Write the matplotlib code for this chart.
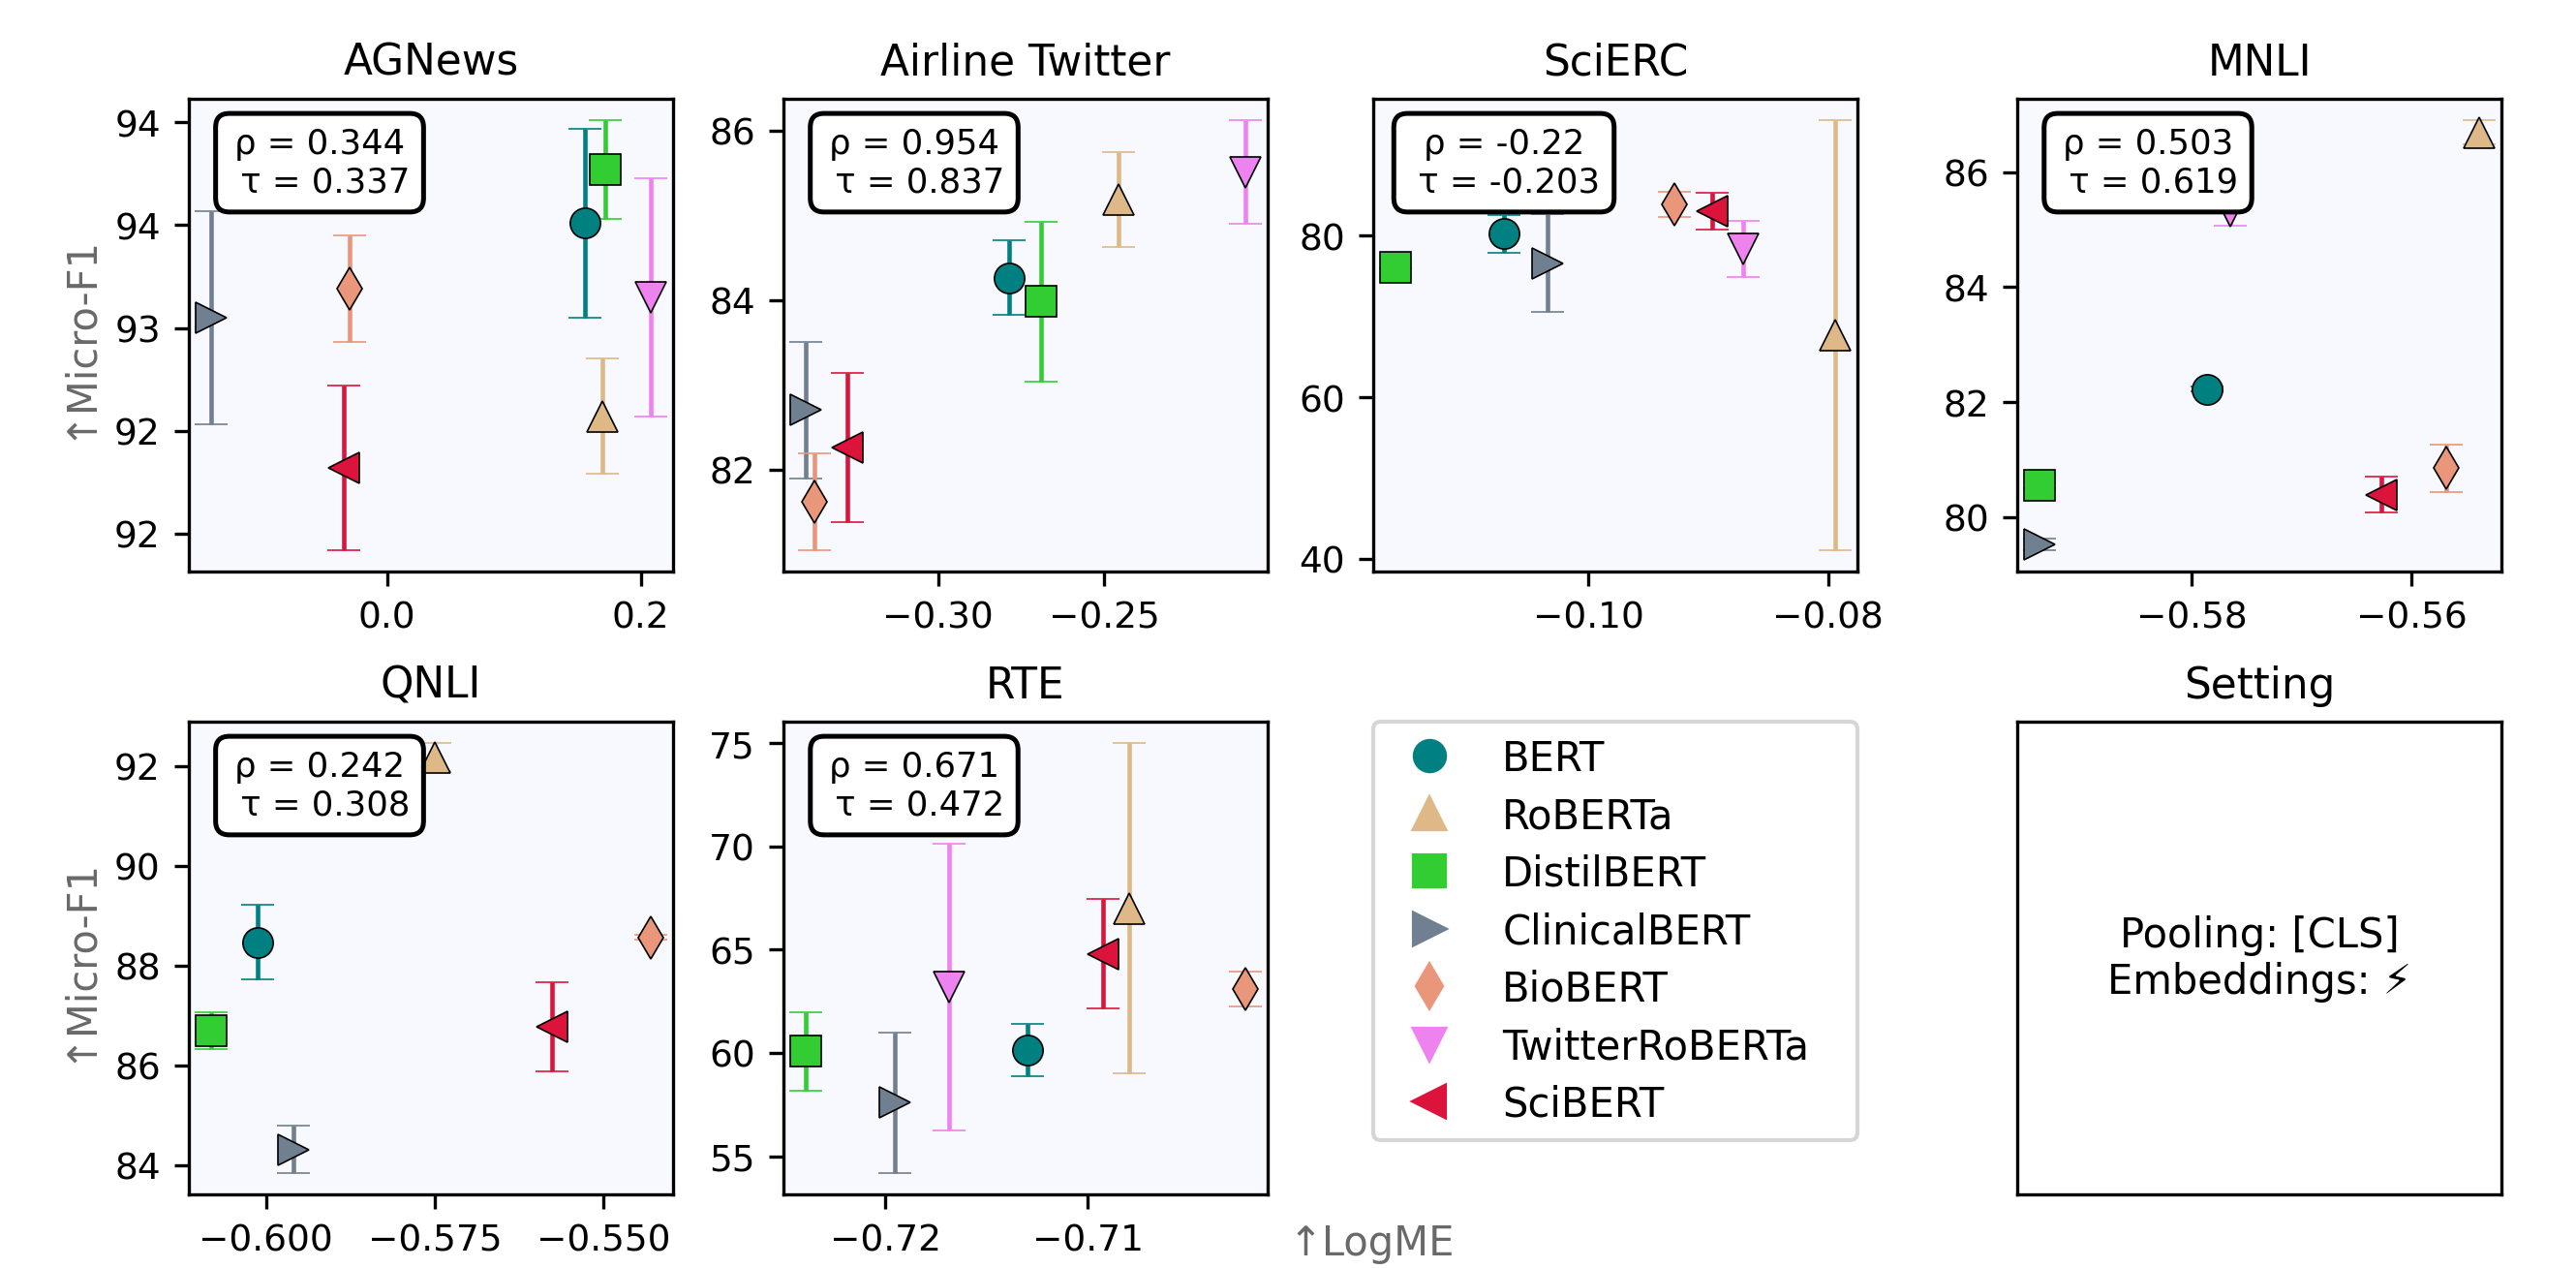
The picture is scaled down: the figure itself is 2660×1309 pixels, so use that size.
import matplotlib
matplotlib.use('Agg')
import matplotlib.pyplot as plt
from matplotlib.lines import Line2D
from matplotlib.ticker import FormatStrFormatter, MultipleLocator

# models, in legend order
models = ['BERT', 'RoBERTa', 'DistilBERT', 'ClinicalBERT', 'BioBERT', 'TwitterRoBERTa', 'SciBERT']
colors = ['teal', 'burlywood', 'limegreen', 'slategray', 'darksalmon', 'violet', 'crimson']
markers = ['o', '^', 's', '>', 'd', 'v', '<']

datasets = ['AGNews', 'Airline Twitter', 'SciERC', 'MNLI', 'QNLI', 'RTE']

# LogME (x), Micro-F1 mean (y) and std (error bar), model order as above
agnews_logme = [0.156, 0.170, 0.172, -0.139, -0.030, 0.208, -0.034]
agnews_f1 = [93.51, 92.57, 93.77, 93.05, 93.19, 93.15, 92.32]
agnews_std = [0.46, 0.28, 0.24, 0.52, 0.26, 0.58, 0.40]

airline_logme = [-0.2786, -0.2458, -0.2690, -0.3400, -0.3372, -0.2074, -0.3273]
airline_f1 = [84.26, 85.18, 83.98, 82.70, 81.62, 85.51, 82.26]
airline_std = [0.44, 0.56, 0.94, 0.81, 0.57, 0.61, 0.88]

scierc_logme = [-0.1070, -0.0794, -0.1161, -0.1034, -0.0928, -0.0871, -0.0897]
scierc_f1 = [80.26, 67.7, 76.04, 76.6, 83.9, 78.35, 83.05]
scierc_std = [2.35, 26.6, 0.1, 6.05, 1.57, 3.45, 2.25]

mnli_logme = [-0.5786, -0.5538, -0.5939, -0.5939, -0.5568, -0.5765, -0.5627]
mnli_f1 = [82.23, 86.69, 80.55, 79.53, 80.85, 85.32, 80.39]
mnli_std = [0.05, 0.21, 0.05, 0.10, 0.41, 0.25, 0.31]

qnli_logme = [-0.6012, -0.5750, -0.6082, -0.5960, -0.5429, -0.5826, -0.5576]
qnli_f1 = [88.47, 92.18, 86.69, 84.31, 88.56, 91.0, 86.77]
qnli_std = [0.74, 0.28, 0.37, 0.47, 0.05, 0.35, 0.90]

rte_logme = [-0.71299, -0.70798, -0.72396, -0.71956, -0.7022, -0.71688, -0.70927]
rte_f1 = [60.12, 67.0, 60.08, 57.59, 63.1, 63.2, 64.8]
rte_std = [1.27, 8.0, 1.9, 3.4, 0.85, 6.95, 2.66]

rho = ['0.344', '0.954', '-0.22', '0.503', '0.242', '0.671']
tau = ['0.337', '0.837', '-0.203', '0.619', '0.308', '0.472']

xsteps = [0.2, 0.05, 0.02, 0.02, 0.025, 0.01]
ysteps = [0.5, 2, 20, 2, 2, 5]

all_x = [agnews_logme, airline_logme, scierc_logme, mnli_logme, qnli_logme, rte_logme]
all_y = [agnews_f1, airline_f1, scierc_f1, mnli_f1, qnli_f1, rte_f1]
all_e = [agnews_std, airline_std, scierc_std, mnli_std, qnli_std, rte_std]

W, H = 2660, 1310
fig = plt.figure(figsize=(W / 300, H / 300), dpi=300)

col_left = [195, 809, 1418, 2083]
row_top = [103, 746]
aw, ah = 500, 488


def add_ax(r, c):
    return fig.add_axes([col_left[c] / W, 1 - (row_top[r] + ah) / H, aw / W, ah / H])


slots = [(0, 0), (0, 1), (0, 2), (0, 3), (1, 0), (1, 1)]

for k, name in enumerate(datasets):
    ax = add_ax(*slots[k])
    ax.set_facecolor('ghostwhite')
    for i in range(len(models)):
        ax.errorbar(all_x[k][i], all_y[k][i], yerr=all_e[k][i], fmt=markers[i],
                    color=colors[i], ms=7.5, mec='black', mew=0.4,
                    elinewidth=1.1, capsize=4, capthick=0.5)
    ax.set_title(name, fontsize=10.5)
    ax.xaxis.set_major_locator(MultipleLocator(xsteps[k]))
    ax.yaxis.set_major_locator(MultipleLocator(ysteps[k]))
    ax.yaxis.set_major_formatter(FormatStrFormatter('%.0f'))
    ax.ticklabel_format(axis='x', useOffset=False)
    ax.tick_params(labelsize=9)
    ax.text(0.27, 0.94, 'ρ = ' + rho[k] + '\n τ = ' + tau[k], transform=ax.transAxes,
            ha='center', va='top', fontsize=8.5, multialignment='center', zorder=5,
            bbox=dict(boxstyle='round,pad=0.4', fc='white', ec='black', lw=1.2))
    if slots[k][1] == 0:
        ax.set_ylabel('↑Micro-F1', color='dimgray', fontsize=10)

# legend panel
ax_leg = add_ax(1, 2)
ax_leg.axis('off')
handles = [Line2D([], [], marker=m, color=c, ls='None', ms=7.5) for m, c in zip(markers, colors)]
ax_leg.legend(handles, models, loc='upper center', bbox_to_anchor=(0, 0, 1, 1),
              mode='expand', borderaxespad=0, fontsize=10, labelspacing=0.42)

# setting panel
ax_set = add_ax(1, 3)
ax_set.set_xticks([])
ax_set.set_yticks([])
ax_set.set_title('Setting', fontsize=10.5)
ax_set.text(0.5, 0.5, 'Pooling: [CLS]\nEmbeddings: ⚡', ha='center', va='center',
            fontsize=10, transform=ax_set.transAxes)

fig.text(0.5, 0.004, '↑LogME', ha='left', va='bottom', color='dimgray', fontsize=10)

fig.savefig('out.png', dpi=300)
